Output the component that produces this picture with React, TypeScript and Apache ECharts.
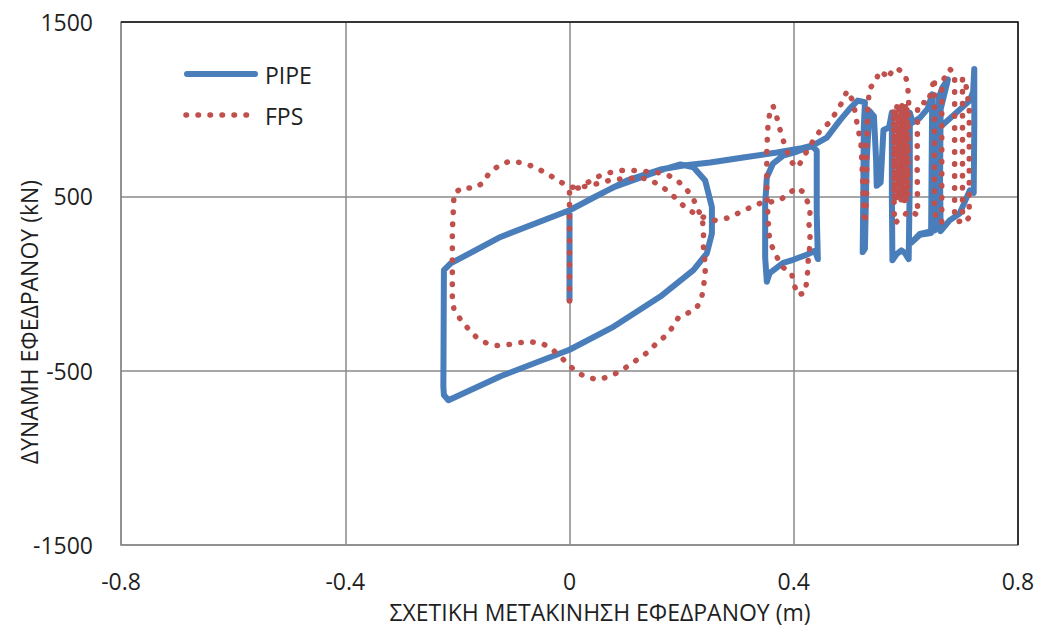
import React, { useEffect, useRef } from "react";
import * as echarts from "echarts";

// Axis ticks
const xTicks = [-0.8, -0.4, 0, 0.4, 0.8];
const yTicks = [-1500, -500, 500, 1500];

// Series names (legend order)
const seriesNames = ["PIPE", "FPS"];

// PIPE bearing: relative displacement (m) / force (kN)
const pipeDisp = [
  0, 0, 0.079, 0.162, 0.198, 0.221, 0.242, 0.254, 0.254, 0.245, 0.221, 0.162, 0.079, 0, -0.123, -0.216, -0.224,
  -0.225, -0.224, -0.212, -0.123, 0, 0.043, 0.103, 0.162, 0.203, 0.251, 0.31, 0.37, 0.411, 0.432, 0.441, 0.441,
  0.443, 0.438, 0.423, 0.399, 0.381, 0.357, 0.352, 0.349, 0.349, 0.352, 0.363, 0.381, 0.406, 0.432, 0.459, 0.482,
  0.5, 0.514, 0.527, 0.525, 0.524, 0.523, 0.527, 0.53, 0.535, 0.543, 0.547, 0.548, 0.555, 0.56, 0.57, 0.575, 0.575,
  0.576, 0.584, 0.592, 0.598, 0.605, 0.607, 0.607, 0.612, 0.625, 0.639, 0.647, 0.646, 0.645, 0.625, 0.61, 0.625,
  0.652, 0.658, 0.665, 0.675, 0.662, 0.661, 0.662, 0.678, 0.696, 0.714, 0.721, 0.722, 0.722, 0.72, 0.714, 0.66,
];
const pipeForce = [
  -94, 420, 553, 649, 683, 667, 591, 439, 287, 173, 77, -75, -247, -380, -532, -670, -640,
  -590, 77, 115, 267, 420, 494, 591, 654, 677, 694, 723, 751, 774, 790, 762, 400,
  140, 188, 165, 136, 118, 60, 10, 150, 450, 609, 688, 734, 757, 788, 837, 934,
  1003, 1049, 1040, 900, 500, 180, 200, 700, 990, 960, 700, 560, 580, 880, 895, 980, 500,
  134, 170, 190, 175, 140, 600, 980, 923, 950, 1003, 1085, 700, 290, 280, 235, 285,
  305, 1060, 1123, 1170, 1000, 600, 300, 362, 402, 534, 520, 900, 1231, 1100, 1049, 894,
];

// FPS bearing: relative displacement (m) / force (kN)
const fpsDisp = [
  0, 0, 0,
  0.016, 0.034, 0.055, 0.073, 0.094, 0.114, 0.135, 0.156, 0.174, 0.192, 0.206, 0.22, 0.227, 0.236, 0.239, 0.239,
  0.239, 0.242, 0.242, 0.239, 0.236, 0.227, 0.212, 0.194, 0.183, 0.174, 0.156, 0.141, 0.126, 0.108, 0.09, 0.07,
  0.052, 0.032, 0.014, 0, -0.016, -0.03, -0.048, -0.07, -0.09, -0.11, -0.132, -0.149, -0.167, -0.182, -0.194,
  -0.206, -0.209, -0.209, -0.209, -0.207, -0.206, -0.19, -0.173, -0.155, -0.144, -0.126, -0.108, -0.087, -0.07,
  -0.057, -0.04, -0.02, 0,
  0.02, 0.037, 0.058, 0.078, 0.1, 0.12, 0.135, 0.156, 0.174, 0.192, 0.206, 0.22, 0.239, 0.26, 0.28, 0.3, 0.319,
  0.34, 0.354, 0.375, 0.393, 0.407,
  0.418, 0.425, 0.429, 0.427, 0.429, 0.429, 0.426, 0.425, 0.423, 0.42, 0.407, 0.4, 0.396, 0.38, 0.366, 0.357,
  0.354, 0.352, 0.352, 0.352, 0.354, 0.357, 0.363, 0.37, 0.375, 0.38, 0.388, 0.393, 0.407, 0.42, 0.438, 0.45,
  0.464, 0.477, 0.488, 0.495, 0.505, 0.509, 0.512,
  0.52, 0.523, 0.525, 0.527, 0.53, 0.53, 0.532, 0.535, 0.545, 0.553, 0.562, 0.568, 0.576, 0.584, 0.592, 0.598,
  0.603, 0.605,
  0.6035, 0.602, 0.6005, 0.599, 0.5975, 0.596, 0.5945, 0.593, 0.5915, 0.59, 0.5885, 0.587, 0.5855, 0.584, 0.5825,
  0.581, 0.5795, 0.578, 0.579, 0.58,
  0.607, 0.621, 0.62, 0.621, 0.63, 0.639, 0.645, 0.651, 0.651, 0.651, 0.655, 0.664, 0.664, 0.664, 0.672, 0.678,
  0.687, 0.687, 0.687, 0.694, 0.701, 0.701, 0.701, 0.705, 0.708, 0.713, 0.713, 0.713, 0.708,
];
const fpsForce = [
  -100, 200, 540,
  548, 582, 620, 637, 648, 648, 643, 637, 625, 591, 551, 494, 437, 380, 317, 248,
  191, 117, 60, -20, -77, -140, -168, -197, -254, -294, -340, -391, -425, -465, -505, -534,
  -551, -540, -511, -471, -420, -380, -345, -334, -340, -351, -357, -340, -305, -254, -208,
  -151, -77, 100, 300, 437, 517, 552, 545, 574, 630, 677, 700, 694, 677,
  659, 630, 591, 552,
  552, 562, 580, 597, 602, 605, 602, 574, 534, 482, 437, 408, 380, 362, 374, 402, 431,
  460, 465, 477, 522, 551,
  520, 465, 408, 345, 288, 220, 151, 77, 9, -54, -66, 0, 60, 94, 174, 248,
  380, 517, 637, 774, 906, 974, 1020, 951, 889, 831, 762, 705, 665, 740, 837, 889,
  923, 991, 1049, 1106, 1050, 991, 934,
  800, 600, 400, 345, 500, 800, 1000, 1120, 1150, 1220, 1200, 1174, 1225, 1237, 1215, 1203,
  1146, 1050,
  500, 1015, 480, 1020, 470, 1010, 490, 1020, 475, 1012, 485, 1005, 490, 1015, 480,
  1008, 495, 1000, 420, 345,
  420, 391, 700, 1020, 1040, 1031, 1100, 1180, 800, 420, 360, 350, 800, 1150, 1200, 1231,
  1203, 800, 380, 355, 362, 800, 1180, 1163, 1123, 1000, 700, 380, 362,
];

const FONT = "'Open Sans', 'DejaVu Sans', sans-serif";
const TEXT_COLOR = "#1f1f1f";
const GRID_COLOR = "#8a8a8a";
const PIPE_COLOR = "#4a7ebb";
const FPS_COLOR = "#c0504d";
const FPS_DASH = [0.5, 11.5];

const zip = (xs: number[], ys: number[]) => xs.map((x, i) => [x, ys[i]]);

export default function App() {
  const ref = useRef<HTMLDivElement>(null);

  useEffect(() => {
    if (!ref.current) return;
    const chart = echarts.init(ref.current, undefined, { renderer: "svg" });

    const option: any = {
      animation: false,
      backgroundColor: "#ffffff",
      grid: { left: 121, right: 20, top: 22, bottom: 85, show: false },
      xAxis: {
        type: "value",
        min: -0.8,
        max: 0.8,
        interval: 0.4,
        axisLine: { show: true, onZero: false, lineStyle: { color: GRID_COLOR, width: 1.5 } },
        axisTick: { show: false, customValues: xTicks },
        axisLabel: {
          customValues: xTicks,
          margin: 24,
          fontSize: 23,
          fontFamily: FONT,
          color: TEXT_COLOR,
          formatter: (v: number) => String(Math.round(v * 10) / 10),
        },
        splitLine: { show: true, lineStyle: { color: GRID_COLOR, width: 1.5 } },
      },
      yAxis: {
        type: "value",
        min: -1500,
        max: 1500,
        axisLine: { show: true, onZero: false, lineStyle: { color: GRID_COLOR, width: 1.5 } },
        axisTick: { show: false, customValues: yTicks },
        axisLabel: {
          customValues: yTicks,
          margin: 28,
          fontSize: 23,
          fontFamily: FONT,
          color: TEXT_COLOR,
          formatter: (v: number) => String(v),
        },
        splitLine: { show: true, lineStyle: { color: GRID_COLOR, width: 1.5 } },
      },
      series: [
        {
          name: seriesNames[0],
          type: "line",
          data: zip(pipeDisp, pipeForce),
          symbol: "none",
          showSymbol: false,
          silent: true,
          itemStyle: { color: PIPE_COLOR },
          lineStyle: { color: PIPE_COLOR, width: 6, cap: "round", join: "round" },
          z: 2,
        },
        {
          name: seriesNames[1],
          type: "line",
          data: zip(fpsDisp, fpsForce),
          symbol: "none",
          showSymbol: false,
          silent: true,
          itemStyle: { color: FPS_COLOR },
          lineStyle: { color: FPS_COLOR, width: 5.5, type: FPS_DASH, cap: "round", join: "round" },
          z: 3,
        },
      ],
      graphic: [
        // plot frame: top and right edges
        {
          type: "polyline",
          z: 100,
          silent: true,
          shape: { points: [[121, 22], [1018, 22], [1018, 545]] },
          style: { stroke: "#111111", lineWidth: 1.5, fill: "none" },
        },
        // legend
        {
          type: "line",
          silent: true,
          z: 50,
          shape: { x1: 187, y1: 74, x2: 255, y2: 74 },
          style: { stroke: PIPE_COLOR, lineWidth: 6, lineCap: "round" },
        },
        {
          type: "text",
          x: 265,
          y: 75,
          silent: true,
          z: 50,
          style: {
            text: seriesNames[0],
            font: `23px ${FONT}`,
            fill: TEXT_COLOR,
            textAlign: "left",
            textVerticalAlign: "middle",
          },
        },
        {
          type: "line",
          silent: true,
          z: 50,
          shape: { x1: 186, y1: 115, x2: 250, y2: 115 },
          style: { stroke: FPS_COLOR, lineWidth: 5.5, lineCap: "round", lineDash: FPS_DASH },
        },
        {
          type: "text",
          x: 265,
          y: 116,
          silent: true,
          z: 50,
          style: {
            text: seriesNames[1],
            font: `23px ${FONT}`,
            fill: TEXT_COLOR,
            textAlign: "left",
            textVerticalAlign: "middle",
          },
        },
        // axis titles
        {
          type: "text",
          x: 600,
          y: 612,
          silent: true,
          style: {
            text: "ΣΧΕΤΙΚΗ ΜΕΤΑΚΙΝΗΣΗ ΕΦΕΔΡΑΝΟΥ (m)",
            font: `23px ${FONT}`,
            fill: TEXT_COLOR,
            textAlign: "center",
            textVerticalAlign: "middle",
          },
        },
        {
          type: "text",
          x: 29,
          y: 322,
          rotation: Math.PI / 2,
          silent: true,
          style: {
            text: "ΔΥΝΑΜΗ ΕΦΕΔΡΑΝΟΥ (kN)",
            font: `23px ${FONT}`,
            fill: TEXT_COLOR,
            textAlign: "center",
            textVerticalAlign: "middle",
          },
        },
      ],
    };

    chart.setOption(option);
    return () => chart.dispose();
  }, []);

  return (
    <div
      ref={ref}
      style={{ position: "fixed", left: 0, top: 0, width: 1038, height: 630, background: "#fff" }}
    />
  );
}
